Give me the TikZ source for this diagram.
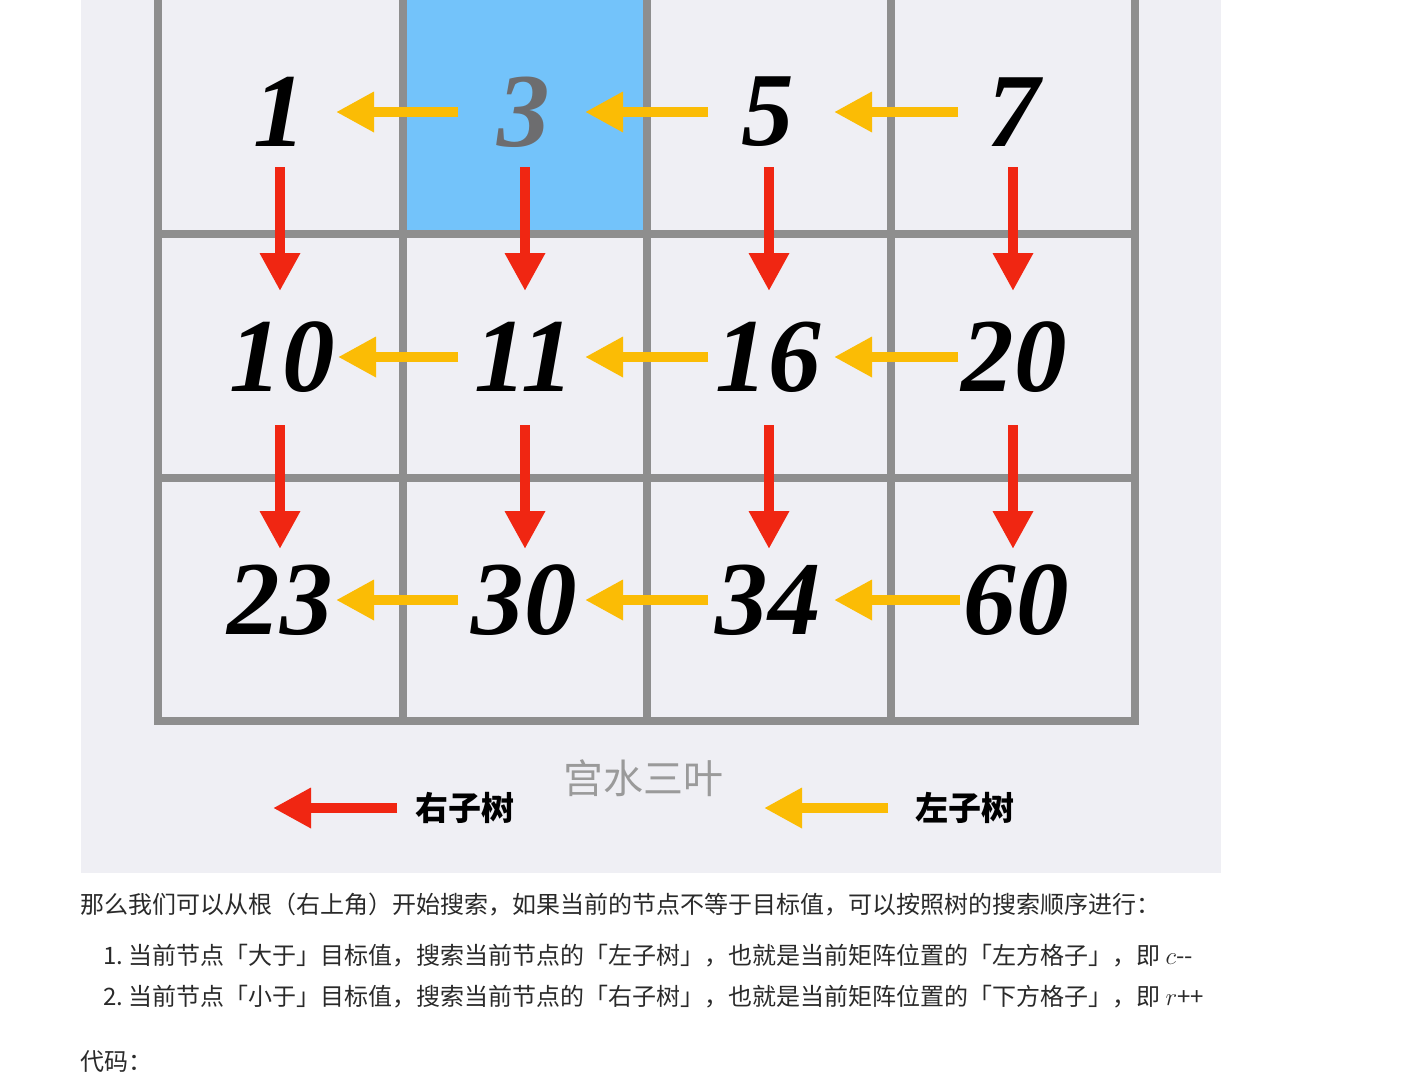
\documentclass[tikz,border=0pt]{standalone}
\usepackage{fontspec}
\newfontfamily\cjk{Noto Sans CJK SC}
\newfontfamily\numfont{Liberation Serif}
\usetikzlibrary{arrows.meta,calc}
\definecolor{panel}{HTML}{EFEFF4}
\definecolor{gridgray}{HTML}{8E8E8E}
\definecolor{cellblue}{HTML}{73C3FA}
\definecolor{arrred}{HTML}{F02612}
\definecolor{arryel}{HTML}{FBBC05}
\definecolor{bodytext}{HTML}{2A2A2A}
\definecolor{markgray}{HTML}{9A9A9A}
\definecolor{numgray}{HTML}{6D6D6F}
\tikzset{
  gridline/.style={draw=gridgray, line width=8pt},
  num/.style={inner sep=0pt, font=\numfont\bfseries\itshape\fontsize{105}{105}\selectfont},
  yarrow/.style={draw=arryel, line width=10pt, -{Triangle[length=38pt,width=38pt]}},
  rarrow/.style={draw=arrred, line width=10pt, -{Triangle[length=38pt,width=38pt]}},
  legend/.style={anchor=west, inner sep=0pt, font=\cjk\bfseries\fontsize{33}{33}\selectfont},
  body/.style={anchor=west, inner sep=0pt, text=bodytext, font=\cjk\fontsize{24}{24}\selectfont},
}
\begin{document}
\begin{tikzpicture}[x=1pt,y=-1pt]
\useasboundingbox (0,0) rectangle (1406,1087);
\fill[white] (0,0) rectangle (1406,1087);
\fill[panel] (81,0) rectangle (1221,873);
\fill[cellblue] (402.7,0) rectangle (646.5,234);
% grid
\draw[gridline] (157.5,-10) -- (157.5,721) -- (1134.5,721) -- (1134.5,-10);
\foreach \x in {402.7,646.5,891} \draw[gridline] (\x,-10) -- (\x,721);
\foreach \y in {234,477.5} \draw[gridline] (157.5,\y) -- (1134.5,\y);
% numbers
\node[num] (n00) at (280,112) {1};
\node[num, text=numgray] (n01) at (524,112) {3};
\node[num] (n02) at (768,112) {5};
\node[num] (n03) at (1014,112) {7};
\node[num] (n10) at (282,357) {10};
\node[num] (n11) at (524,357) {11};
\node[num] (n12) at (768,357) {16};
\node[num] (n13) at (1014,357) {20};
\node[num] (n20) at (280,600) {23};
\node[num] (n21) at (524,600) {30};
\node[num] (n22) at (768,600) {34};
\node[num] (n23) at (1016,600) {60};
% left arrows (yellow)
\foreach \r in {0,1,2}{
  \foreach \c/\p/\a/\b in {1/0/-66/56, 2/1/-60/61, 3/2/-56/66}{
    \draw[yarrow] ($(n\r\c.center |- n\r0.center)+(\a,0)$) -- ($(n\r\p.center |- n\r0.center)+(\b,0)$);
  }
}
% down arrows (red)
\foreach \c/\x in {0/280,1/525,2/769,3/1013}{
  \coordinate (ta\c) at (\x,167);
  \coordinate (tb\c) at (\x,291);
  \coordinate (tc\c) at (\x,425);
  \coordinate (td\c) at (\x,549);
  \draw[rarrow] (ta\c) -- (tb\c);
  \draw[rarrow] (tc\c) -- (td\c);
}
% legend
\coordinate (lr1) at (397,808);
\coordinate (lr2) at (273,808);
\draw[rarrow] (lr1) -- (lr2);
\node[legend] (lgr) at (415,808) {右子树};
\coordinate (ly1) at (888,808);
\coordinate (ly2) at (764,808);
\draw[yarrow] (ly1) -- (ly2);
\node[legend] (lgy) at (915,808) {左子树};
\node[anchor=center, inner sep=0pt, text=markgray, font=\cjk\fontsize{40}{40}\selectfont] (mark) at (643,778) {宫水三叶};
% body text
\node[body] (p0) at (80,905) {那么我们可以从根（右上角）开始搜索，如果当前的节点不等于目标值，可以按照树的搜索顺序进行：};
\node[body] (i1n) at (103,956) {1.};
\node[body] (i1) at (128,956) {当前节点「大于」目标值，搜索当前节点的「左子树」，也就是当前矩阵位置的「左方格子」，即 $c${-}{-}};
\node[body] (i2n) at (103,997) {2.};
\node[body] (i2) at (128,997) {当前节点「小于」目标值，搜索当前节点的「右子树」，也就是当前矩阵位置的「下方格子」，即 $r$++};
\node[body] (code) at (80,1062) {代码：};
\end{tikzpicture}
\end{document}
